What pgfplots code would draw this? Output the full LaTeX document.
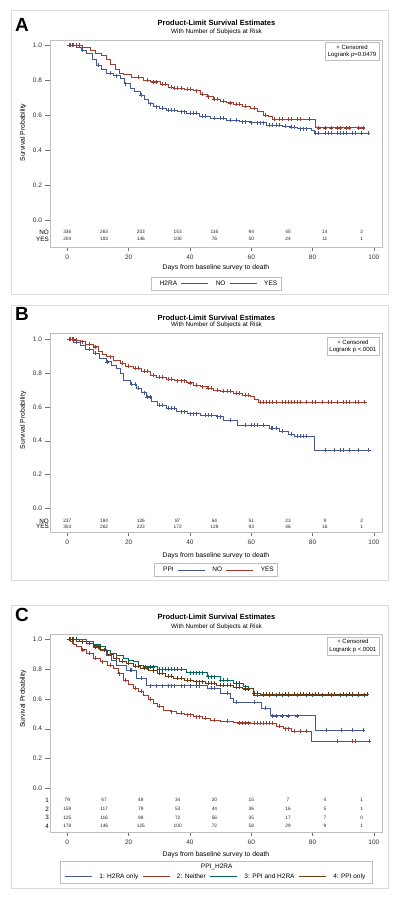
\documentclass[border=0pt]{standalone}
\usepackage{fontspec}
\setmainfont{Liberation Sans}
\usepackage{pgfplots}
\pgfplotsset{compat=1.18}
\definecolor{kmblue}{HTML}{445694}
\definecolor{kmred}{HTML}{A23A2E}
\definecolor{kmteal}{HTML}{01665E}
\definecolor{kmbrown}{HTML}{643A0E}
\definecolor{framegray}{HTML}{DCDCDC}
\definecolor{axgray}{HTML}{BEBEBE}

\pgfplotsset{
  km/.style={
    scale only axis, width=332pt, xmin=-5.64, xmax=102.64,
    xtick={0,20,40,60,80,100}, ytick={0,0.2,0.4,0.6,0.8,1.0},
    axis line style={axgray}, tick style={black!55, line width=0.4pt},
    tick align=outside, major tick length=4.5pt,
    xtick pos=bottom, ytick pos=left,
    tick label style={font=\fontsize{6.5}{7}\selectfont, text=black!80},
    yticklabel style={/pgf/number format/.cd, fixed, fixed zerofill, precision=1},
    /pgf/number format/assume math mode=true,
    clip mode=individual,
    xlabel={Days from baseline survey to death},
    ylabel={Survival Probability},
    label style={font=\fontsize{6.8}{8}\selectfont},
    legend style={draw=axgray, font=\fontsize{6.5}{7}\selectfont, inner sep=1.5pt,
      /tikz/every even column/.append style={column sep=2pt},
      /tikz/every odd column/.append style={column sep=5pt}},
    legend columns=-1,
    legend image code/.code={\draw[##1] (0pt,0pt) -- (27pt,0pt);},
  },
  curve/.style={const plot, line width=0.6pt, mark=none, forget plot},
  cens/.style={only marks, mark=+, mark size=2pt, mark options={line width=0.45pt}, forget plot},
  risk/.style={draw=none, mark=none, forget plot, nodes near coords, point meta=explicit symbolic,
    nodes near coords style={font=\fontsize{4.8}{5}\selectfont, anchor=center, inner sep=0pt, text=black!85}},
}
\newcommand{\ttl}[2]{%
  \node[font=\bfseries\fontsize{7.5}{9}\selectfont] at (216.5pt,#1) {Product-Limit Survival Estimates};
  \node[font=\fontsize{6.3}{7}\selectfont] at (216.5pt,#2) {With Number of Subjects at Risk};}

\begin{document}
\begin{tikzpicture}
\useasboundingbox (0,0) rectangle (400pt,-900pt);
\fill[white] (0,0) rectangle (400pt,-900pt);
% panel frames
\draw[framegray, line width=0.8pt] (11pt,-10pt) rectangle (388pt,-294pt);
\draw[framegray, line width=0.8pt] (11pt,-305pt) rectangle (388pt,-580pt);
\draw[framegray, line width=0.8pt] (11pt,-605pt) rectangle (388pt,-888pt);
% letters and titles
\node[font=\bfseries\fontsize{19}{20}\selectfont] at (22pt,-25pt) {A};
\node[font=\bfseries\fontsize{19}{20}\selectfont] at (22pt,-314pt) {B};
\node[font=\bfseries\fontsize{19}{20}\selectfont] at (22pt,-615pt) {C};
\ttl{-22.7pt}{-32.3pt}
\ttl{-317.7pt}{-325pt}
\ttl{-616.7pt}{-626.7pt}

%================ A
\begin{axis}[km, at={(50pt,-246.7pt)}, anchor=south west, height=206.7pt,
  ymin=-0.1526, ymax=1.0286,
  xlabel style={at={(axis description cs:0.5,-0.103)}, anchor=center},
  ylabel style={at={(axis description cs:-0.081,0.5525)}, anchor=center},
  legend style={at={(axis description cs:0.5,-0.178)}, anchor=center}]
\addplot[curve, kmblue] coordinates {(0,1.0)(3,0.985)(4.5,0.97)(6.3,0.952)(8,0.92)(9.6,0.886)(11,0.86)(12.8,0.838)(15,0.825)(17.2,0.81)(18.5,0.78)(20.4,0.753)(22,0.735)(23.7,0.714)(25,0.69)(26.5,0.665)(28,0.648)(30,0.638)(32.4,0.629)(36,0.62)(38.9,0.61)(43,0.595)(46.5,0.581)(52,0.57)(56,0.562)(59.6,0.556)(65,0.543)(70,0.537)(72.6,0.53)(75,0.522)(79.7,0.514)(80.5,0.495)(98.7,0.495)};
\addplot[cens, kmblue] coordinates {(0.5,1)(1,1)(1.5,1)(2,1)(5,0.97)(10,0.886)(14,0.838)(16,0.825)(19,0.78)(24,0.714)(27,0.665)(29,0.648)(31,0.638)(33,0.629)(34,0.629)(35,0.629)(37,0.62)(38,0.62)(40,0.61)(41,0.61)(42,0.61)(44,0.595)(45,0.595)(48,0.581)(50,0.581)(51,0.581)(53,0.57)(55,0.57)(57,0.562)(58,0.562)(60,0.556)(62,0.556)(63,0.556)(64,0.556)(66,0.543)(67,0.543)(68,0.543)(69,0.543)(71,0.537)(73,0.53)(74,0.53)(76,0.522)(77,0.522)(78,0.522)(81,0.495)(82,0.495)(84,0.495)(85,0.495)(86,0.495)(88,0.495)(89,0.495)(90,0.495)(91,0.495)(93,0.495)(94,0.495)(96,0.495)(98,0.495)};
\addplot[curve, kmred] coordinates {(0,1.0)(5,0.985)(7.4,0.97)(9,0.955)(11,0.94)(12.8,0.92)(14,0.89)(15.6,0.86)(17,0.84)(18.3,0.83)(21,0.815)(24.8,0.80)(27,0.79)(30.2,0.775)(33,0.76)(34.6,0.753)(38,0.748)(41,0.74)(43.3,0.72)(45.5,0.705)(47.6,0.69)(50,0.68)(52,0.67)(54.1,0.663)(57,0.65)(59.6,0.638)(62,0.62)(63.9,0.60)(65.5,0.59)(66.7,0.575)(80.8,0.527)(97.1,0.527)};
\addplot[cens, kmred] coordinates {(1,1)(2,1)(3,1)(4,1)(23,0.815)(26,0.80)(28,0.79)(29,0.79)(31,0.775)(32,0.775)(34,0.76)(35,0.753)(36,0.753)(37,0.753)(39,0.748)(40,0.748)(42,0.74)(44,0.72)(46,0.705)(48,0.69)(49,0.69)(51,0.68)(53,0.67)(55,0.663)(56,0.663)(58,0.65)(61,0.638)(64.5,0.60)(67.5,0.575)(69,0.575)(70,0.575)(72,0.575)(73,0.575)(75,0.575)(76,0.575)(79,0.575)(82,0.527)(84,0.527)(86,0.527)(88,0.527)(89,0.527)(91,0.527)(92,0.527)(95,0.527)(96.5,0.527)};
\addplot[risk] coordinates {(0,-0.0703)[336] (12,-0.0703)[263] (24,-0.0703)[203] (36,-0.0703)[153] (48,-0.0703)[116] (60,-0.0703)[94] (72,-0.0703)[45] (84,-0.0703)[14] (96,-0.0703)[2]};
\addplot[risk] coordinates {(0,-0.11)[204] (12,-0.11)[183] (24,-0.11)[146] (36,-0.11)[106] (48,-0.11)[76] (60,-0.11)[50] (72,-0.11)[24] (84,-0.11)[11] (96,-0.11)[1]};
\node[anchor=east, font=\fontsize{6.3}{7}\selectfont, inner sep=1pt] at (axis cs:-5.64,-0.0703) {NO};
\node[anchor=east, font=\fontsize{6.3}{7}\selectfont, inner sep=1pt] at (axis cs:-5.64,-0.11) {YES};
\node[draw=axgray, fill=white, align=center, font=\fontsize{6}{7.5}\selectfont, anchor=north east, inner sep=2.5pt] at (rel axis cs:0.991,0.99) {+ Censored\\Logrank p=0.0479};
\addlegendimage{empty legend}\addlegendentry{H2RA\hspace{14pt}}
\addlegendimage{draw=kmblue, line width=0.7pt}\addlegendentry{NO}
\addlegendimage{draw=kmred, line width=0.7pt}\addlegendentry{YES}
\end{axis}

%================ B
\begin{axis}[km, at={(50pt,-531.7pt)}, anchor=south west, height=198.4pt,
  ymin=-0.1385, ymax=1.0355,
  xlabel style={at={(axis description cs:0.5,-0.1225)}, anchor=center},
  ylabel style={at={(axis description cs:-0.081,0.561)}, anchor=center},
  legend style={at={(axis description cs:0.5,-0.193)}, anchor=center}]
\addplot[curve, kmblue] coordinates {(0,1.0)(2,0.985)(4.1,0.966)(6,0.94)(8.5,0.917)(10.5,0.89)(12.8,0.867)(14.5,0.845)(16.1,0.828)(17.2,0.80)(18.3,0.759)(20.5,0.735)(22.6,0.71)(24,0.685)(25.9,0.66)(27.5,0.635)(29.2,0.611)(32.4,0.592)(35.7,0.572)(39,0.56)(43.3,0.552)(48.7,0.542)(51,0.522)(55.5,0.49)(66,0.475)(69,0.455)(72,0.44)(74,0.425)(80.5,0.345)(99,0.345)};
\addplot[cens, kmblue] coordinates {(0.5,1)(1,1)(1.5,1)(3,0.985)(7,0.94)(9,0.917)(13,0.867)(21,0.735)(22,0.735)(23,0.71)(25,0.685)(26,0.66)(27,0.66)(30,0.611)(31,0.611)(33,0.592)(34,0.592)(35,0.592)(37,0.572)(38,0.572)(40,0.56)(41,0.56)(42,0.56)(45,0.552)(46,0.552)(47,0.552)(49,0.542)(50,0.542)(53,0.522)(58,0.49)(60,0.49)(61,0.49)(62,0.49)(64,0.49)(66.5,0.475)(67,0.475)(68,0.475)(70,0.455)(73,0.44)(75,0.425)(76,0.425)(77,0.425)(78,0.425)(84,0.345)(87,0.345)(89,0.345)(90,0.345)(92,0.345)(95,0.345)(98,0.345)};
\addplot[curve, kmred] coordinates {(0,1.0)(2.5,0.993)(4.1,0.986)(6,0.97)(8.5,0.956)(10,0.93)(11.5,0.91)(12.8,0.897)(15,0.875)(17.2,0.858)(19,0.843)(21.5,0.828)(24,0.81)(27,0.789)(29,0.778)(32.4,0.763)(35,0.755)(38.9,0.743)(41,0.73)(43.3,0.72)(45.5,0.71)(47.6,0.70)(50,0.692)(54.1,0.68)(57,0.67)(59.6,0.66)(61,0.645)(62.3,0.627)(97.7,0.627)};
\addplot[cens, kmred] coordinates {(0.5,1)(1,1)(1.5,1)(2,1)(3,0.993)(5,0.986)(7,0.97)(9,0.956)(14,0.897)(18,0.858)(20,0.843)(22,0.828)(23,0.828)(25,0.81)(26,0.81)(28,0.789)(30,0.778)(31,0.778)(33,0.763)(34,0.763)(36,0.755)(37,0.755)(38,0.755)(40,0.743)(42,0.73)(44,0.72)(46,0.71)(47,0.71)(49,0.70)(51,0.692)(52,0.692)(53,0.692)(55,0.68)(56,0.68)(58,0.67)(59,0.67)(63,0.627)(64,0.627)(65,0.627)(66,0.627)(67,0.627)(68,0.627)(70,0.627)(71,0.627)(72,0.627)(73,0.627)(74,0.627)(75,0.627)(76,0.627)(78,0.627)(80,0.627)(81,0.627)(83,0.627)(85,0.627)(86,0.627)(88,0.627)(90,0.627)(91,0.627)(92,0.627)(94,0.627)(95,0.627)(97,0.627)};
\addplot[risk] coordinates {(0,-0.075)[237] (12,-0.075)[184] (24,-0.075)[126] (36,-0.075)[87] (48,-0.075)[64] (60,-0.075)[51] (72,-0.075)[23] (84,-0.075)[9] (96,-0.075)[2]};
\addplot[risk] coordinates {(0,-0.107)[303] (12,-0.107)[262] (24,-0.107)[223] (36,-0.107)[172] (48,-0.107)[128] (60,-0.107)[93] (72,-0.107)[46] (84,-0.107)[16] (96,-0.107)[1]};
\node[anchor=east, font=\fontsize{6.3}{7}\selectfont, inner sep=1pt] at (axis cs:-5.64,-0.075) {NO};
\node[anchor=east, font=\fontsize{6.3}{7}\selectfont, inner sep=1pt] at (axis cs:-5.64,-0.107) {YES};
\node[draw=axgray, fill=white, align=center, font=\fontsize{6}{7.5}\selectfont, anchor=north east, inner sep=2.5pt] at (rel axis cs:0.991,0.98) {+ Censored\\Logrank p <.0001};
\addlegendimage{empty legend}\addlegendentry{PPI\hspace{14pt}}
\addlegendimage{draw=kmblue, line width=0.7pt}\addlegendentry{NO}
\addlegendimage{draw=kmred, line width=0.7pt}\addlegendentry{YES}
\end{axis}

%================ C
\begin{axis}[km, at={(50pt,-831.7pt)}, anchor=south west, height=197.4pt,
  ymin=-0.2913, ymax=1.0336,
  xlabel style={at={(axis description cs:0.5,-0.1145)}, anchor=center},
  ylabel style={at={(axis description cs:-0.081,0.673)}, anchor=center},
  legend style={at={(axis description cs:0.5,-0.228)}, anchor=center, draw=none}]
\addplot[curve, kmblue] coordinates {(0,1.0)(6.3,0.985)(8.5,0.962)(10.5,0.93)(12.8,0.895)(14.5,0.86)(16.1,0.828)(19.4,0.794)(22.6,0.738)(25.9,0.689)(45.5,0.671)(49.8,0.638)(53.1,0.604)(54.1,0.577)(63.4,0.537)(66.1,0.487)(81,0.391)(96.5,0.391)};
\addplot[cens, kmblue] coordinates {(1,1)(2,1)(20.5,0.794)(21,0.794)(24,0.738)(27,0.689)(29,0.689)(31,0.689)(33,0.689)(34,0.689)(35,0.689)(37,0.689)(38,0.689)(40,0.689)(42,0.689)(43,0.689)(47,0.671)(48,0.671)(52,0.638)(55,0.577)(61,0.577)(64.5,0.537)(67,0.487)(68,0.487)(70,0.487)(72,0.487)(75,0.487)(84.6,0.391)(89.5,0.391)(93,0.391)(96.5,0.391)};
\addplot[curve, kmred] coordinates {(0,1.0)(0.9,0.985)(2,0.965)(3,0.95)(4.5,0.93)(6.3,0.906)(8.5,0.875)(10.7,0.85)(13,0.825)(15,0.805)(16.5,0.77)(18.3,0.727)(20,0.70)(21.5,0.671)(23,0.65)(24.8,0.626)(26.5,0.60)(28,0.57)(29.5,0.55)(31.3,0.526)(33.5,0.515)(35.7,0.503)(38,0.495)(41.1,0.481)(44,0.47)(46.5,0.458)(50,0.45)(54.1,0.44)(59.6,0.436)(68.3,0.418)(70.5,0.40)(73,0.385)(79.7,0.317)(98.7,0.317)};
\addplot[cens, kmred] coordinates {(1.5,0.985)(5,0.93)(7,0.906)(9,0.875)(11.5,0.85)(14,0.825)(17,0.77)(19,0.727)(22,0.671)(24,0.65)(27,0.60)(30,0.55)(34,0.515)(37,0.503)(39,0.495)(40,0.495)(42,0.481)(43,0.481)(45,0.47)(48,0.458)(52,0.45)(56,0.44)(57,0.44)(58,0.44)(59,0.44)(61,0.436)(62,0.436)(63,0.436)(64,0.436)(65,0.436)(66,0.436)(67,0.436)(69,0.418)(71,0.40)(72,0.40)(74,0.385)(76,0.385)(78,0.385)(88,0.317)(93,0.317)(94,0.317)(98.5,0.317)};
\addplot[curve, kmteal] coordinates {(0,1.0)(4,0.99)(6.3,0.984)(8.5,0.967)(10.7,0.95)(12.5,0.925)(13.9,0.906)(16,0.89)(18.3,0.872)(20,0.86)(21.5,0.85)(23,0.828)(24.8,0.816)(29.2,0.80)(38.9,0.776)(45.5,0.749)(49.8,0.727)(54.1,0.705)(57.4,0.682)(59,0.671)(60.7,0.626)(97.7,0.626)};
\addplot[cens, kmteal] coordinates {(1,1)(2,1)(3,1)(25.5,0.816)(27,0.816)(28,0.816)(30,0.80)(31,0.80)(32,0.80)(33,0.80)(34,0.80)(35,0.80)(36,0.80)(37,0.80)(40,0.776)(41,0.776)(42,0.776)(43,0.776)(44,0.776)(46,0.749)(47,0.749)(48,0.749)(50,0.727)(51,0.727)(52,0.727)(55,0.705)(56,0.705)(58,0.682)(62,0.626)(64,0.626)(66,0.626)(68,0.626)(70,0.626)(72,0.626)(75,0.626)(78,0.626)(80,0.626)(83,0.626)(86,0.626)(89,0.626)(91,0.626)(93,0.626)(95,0.626)(97,0.626)};
\addplot[curve, kmbrown] coordinates {(0,1.0)(3,0.99)(4.5,0.985)(6.3,0.973)(8.5,0.95)(10.7,0.928)(13,0.9)(15,0.872)(17,0.855)(19.4,0.839)(21.5,0.82)(23.7,0.805)(26.5,0.79)(29.2,0.772)(32,0.755)(34.6,0.738)(38,0.727)(41.1,0.716)(45,0.705)(48.7,0.693)(54.1,0.678)(57,0.668)(60.7,0.638)(62.9,0.631)(97.7,0.631)};
\addplot[cens, kmbrown] coordinates {(0.5,1)(1,1)(1.5,1)(2,1)(5,0.985)(7,0.973)(9,0.95)(10,0.95)(12,0.928)(14,0.9)(16,0.872)(18,0.855)(20,0.839)(22,0.82)(23,0.82)(25,0.805)(26,0.805)(28,0.79)(30,0.772)(31,0.772)(33,0.755)(34,0.755)(36,0.738)(37,0.738)(39,0.727)(40,0.727)(42,0.716)(43,0.716)(44,0.716)(46,0.705)(47,0.705)(48,0.705)(50,0.693)(51,0.693)(52,0.693)(53,0.693)(55,0.678)(56,0.678)(58,0.668)(59,0.668)(61,0.638)(62,0.638)(64,0.631)(65,0.631)(66,0.631)(67,0.631)(69,0.631)(71,0.631)(72,0.631)(74,0.631)(76,0.631)(77,0.631)(79,0.631)(81,0.631)(82,0.631)(85,0.631)(87,0.631)(90,0.631)(92,0.631)(93,0.631)(95,0.631)(97.7,0.631)};
\addplot[risk] coordinates {(0,-0.0785)[79] (12,-0.0785)[67] (24,-0.0785)[48] (36,-0.0785)[34] (48,-0.0785)[20] (60,-0.0785)[15] (72,-0.0785)[7] (84,-0.0785)[4] (96,-0.0785)[1]};
\addplot[risk] coordinates {(0,-0.139)[159] (12,-0.139)[117] (24,-0.139)[79] (36,-0.139)[53] (48,-0.139)[44] (60,-0.139)[36] (72,-0.139)[16] (84,-0.139)[5] (96,-0.139)[1]};
\addplot[risk] coordinates {(0,-0.197)[125] (12,-0.197)[116] (24,-0.197)[98] (36,-0.197)[72] (48,-0.197)[56] (60,-0.197)[35] (72,-0.197)[17] (84,-0.197)[7] (96,-0.197)[0]};
\addplot[risk] coordinates {(0,-0.253)[178] (12,-0.253)[146] (24,-0.253)[125] (36,-0.253)[100] (48,-0.253)[72] (60,-0.253)[58] (72,-0.253)[29] (84,-0.253)[9] (96,-0.253)[1]};
\node[anchor=east, font=\fontsize{6.3}{7}\selectfont, inner sep=1pt] at (axis cs:-5.64,-0.0785) {1};
\node[anchor=east, font=\fontsize{6.3}{7}\selectfont, inner sep=1pt] at (axis cs:-5.64,-0.139) {2};
\node[anchor=east, font=\fontsize{6.3}{7}\selectfont, inner sep=1pt] at (axis cs:-5.64,-0.197) {3};
\node[anchor=east, font=\fontsize{6.3}{7}\selectfont, inner sep=1pt] at (axis cs:-5.64,-0.253) {4};
\node[draw=axgray, fill=white, align=center, font=\fontsize{6}{7.5}\selectfont, anchor=north east, inner sep=2.5pt] at (rel axis cs:0.991,0.988) {+ Censored\\Logrank p <.0001};
\addlegendimage{draw=kmblue, line width=0.7pt}\addlegendentry{1: H2RA only}
\addlegendimage{draw=kmred, line width=0.7pt}\addlegendentry{2: Neither}
\addlegendimage{draw=kmteal, line width=0.7pt}\addlegendentry{3: PPI and H2RA}
\addlegendimage{draw=kmbrown, line width=0.7pt}\addlegendentry{4: PPI only}
\end{axis}
\draw[axgray, line width=0.5pt] (60.7pt,-861pt) rectangle (372.7pt,-883pt);
\node[font=\fontsize{6.5}{7}\selectfont] at (216.7pt,-867pt) {PPI\_H2RA};
\end{tikzpicture}
\end{document}
